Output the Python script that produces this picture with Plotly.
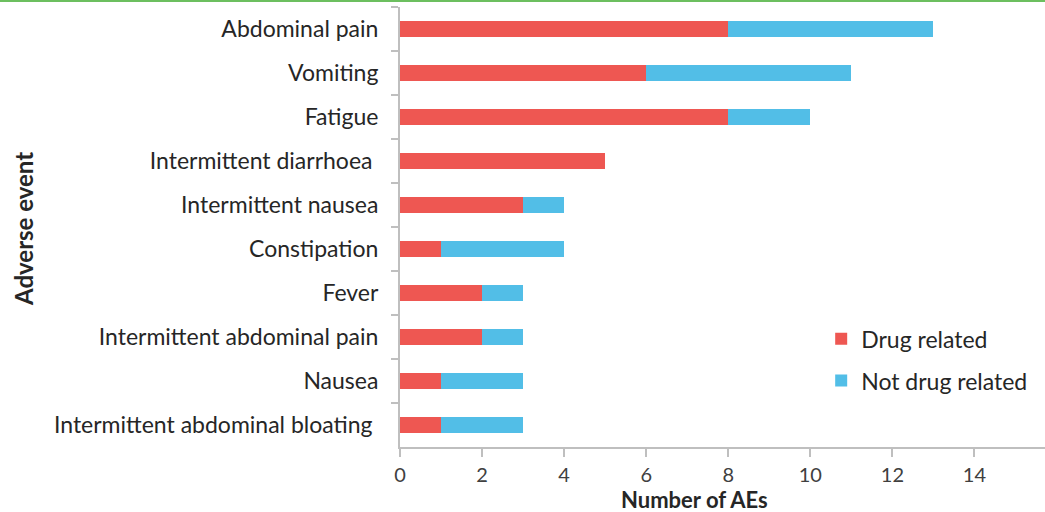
import plotly.graph_objects as go

categories = [
    "Abdominal pain",
    "Vomiting",
    "Fatigue",
    "Intermittent diarrhoea\u00a0",
    "Intermittent nausea",
    "Constipation",
    "Fever",
    "Intermittent abdominal pain",
    "Nausea",
    "Intermittent abdominal bloating\u00a0",
]
drug_related = [8, 6, 8, 5, 3, 1, 2, 2, 1, 1]
not_drug_related = [5, 5, 2, 0, 1, 3, 1, 1, 2, 2]
x_ticks = [0, 2, 4, 6, 8, 10, 12, 14]

RED = "#EE5752"
BLUE = "#52BEE7"
FONT = "Lato"
TXT = "#262626"

fig = go.Figure()
fig.add_trace(go.Bar(
    y=categories, x=drug_related, orientation="h", name="Drug related",
    marker=dict(color=RED, line=dict(width=0)), width=0.38, legendgroup="a",
))
fig.add_trace(go.Bar(
    y=categories, x=not_drug_related, orientation="h", name="Not drug related",
    marker=dict(color=BLUE, line=dict(width=0)), width=0.38, legendgroup="b",
))

fig.update_layout(
    barmode="stack",
    width=1045, height=512,
    margin=dict(l=400, r=0, t=7, b=65, autoexpand=False),
    paper_bgcolor="white", plot_bgcolor="white",
    font=dict(family=FONT, size=23, color=TXT),
    legend=dict(
        x=0.653, y=0.295, xanchor="left", yanchor="top",
        font=dict(family=FONT, size=23, color=TXT),
        traceorder="grouped", tracegroupgap=9,
        bgcolor="rgba(0,0,0,0)",
    ),
    xaxis=dict(
        range=[0, 15.72], tickvals=x_ticks, ticks="outside", ticklen=8,
        tickcolor="#bfbfbf", tickwidth=1.5, showline=True, linecolor="#bfbfbf",
        linewidth=2, showgrid=False, zeroline=False, ticklabelstandoff=1,
        tickfont=dict(family=FONT, size=20, color="#404040"),
    ),
    yaxis=dict(
        autorange="reversed", ticks="outside", ticklen=7, tickson="boundaries",
        tickcolor="#bfbfbf", tickwidth=1.5, showline=True, linecolor="#bfbfbf",
        linewidth=2, showgrid=False, ticklabelstandoff=15,
        tickfont=dict(family=FONT, size=23, color=TXT),
    ),
    showlegend=True,
)

fig.add_annotation(
    text="<b>Number of AEs</b>", xref="paper", yref="paper",
    x=(694 - 400) / 645, y=-(499 - 447) / 440, xanchor="center", yanchor="middle",
    showarrow=False, font=dict(family=FONT, size=22, color=TXT),
)
fig.add_annotation(
    text="<b>Adverse event</b>", xref="paper", yref="paper",
    x=-(400 - 23) / 645, y=(447 - 229) / 440, xanchor="center", yanchor="middle",
    textangle=-90, showarrow=False, font=dict(family=FONT, size=24, color=TXT),
)
fig.add_shape(
    type="line", xref="paper", yref="paper",
    x0=-400 / 645, x1=1, y0=1 + 6 / 440, y1=1 + 6 / 440,
    line=dict(color="#6CBF5F", width=2),
)

fig.write_html(
    "out.html",
    config={"displayModeBar": False},
    post_script="document.body.style.margin='0';document.body.style.padding='0';",
)
